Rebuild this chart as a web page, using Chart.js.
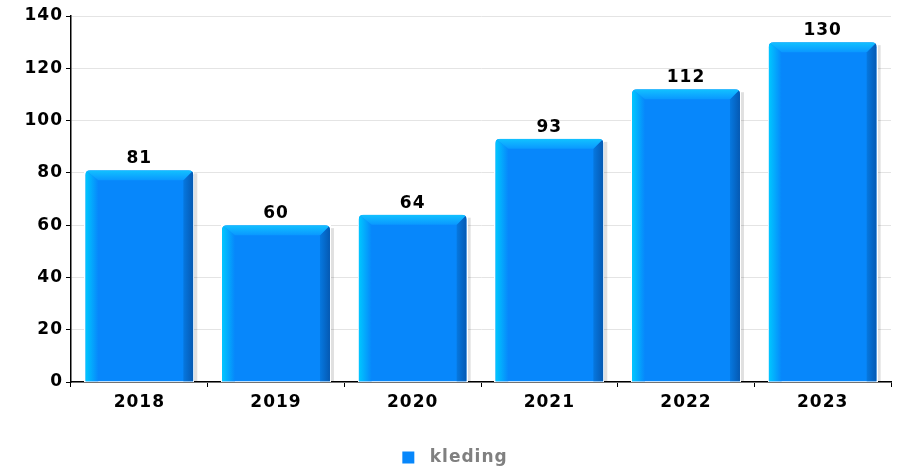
<!DOCTYPE html>
<html>
<head>
<meta charset="utf-8">
<script src="https://cdn.jsdelivr.net/npm/chart.js"></script>
<style>
  html, body { margin: 0; padding: 0; background: #fff; overflow: hidden; }
  #wrap { width: 901px; height: 467px; }
</style>
</head>
<body>
<div id="wrap"><canvas id="c" width="901" height="467"></canvas></div>
<script>
const years = ['2018', '2019', '2020', '2021', '2022', '2023'];
const kleding = [81, 60, 64, 93, 112, 130];

const FONT = "'DejaVu Sans', sans-serif";
const MAIN = '#0787fb';

// the source renders text a bit wider, so space the letters out
const spacing = {
  id: 'spacing',
  beforeUpdate(chart) { chart.ctx.letterSpacing = '1px'; },
  beforeDraw(chart) { chart.ctx.letterSpacing = '1px'; }
};

// draws the bevelled "3D" look over each bar, plus value labels
const bevelBars = {
  id: 'bevelBars',
  beforeDatasetsDraw(chart) {
    const ctx = chart.ctx;
    chart.getDatasetMeta(0).data.forEach(bar => {
      const r = bar.x + bar.width / 2;
      ctx.save();
      ctx.fillStyle = 'rgba(0,0,0,0.12)';
      ctx.fillRect(r, bar.y + 3, 4, bar.base - bar.y - 3);
      ctx.restore();
    });
  },
  afterDatasetsDraw(chart) {
    const ctx = chart.ctx;
    const meta = chart.getDatasetMeta(0);
    meta.data.forEach((bar, i) => {
      const l = bar.x - bar.width / 2, r = bar.x + bar.width / 2;
      const t = bar.y, b = bar.base;
      const rad = 5, sl = 13, sr = 10, bev = 10;
      ctx.save();
      ctx.beginPath();
      ctx.moveTo(l, b);
      ctx.lineTo(l, t + rad);
      ctx.quadraticCurveTo(l, t, l + rad, t);
      ctx.lineTo(r - rad, t);
      ctx.quadraticCurveTo(r, t, r, t + rad);
      ctx.lineTo(r, b);
      ctx.closePath();
      ctx.clearRect(l - 1, t - 1, r - l + 2, b - t + 1);
      ctx.clip();
      ctx.fillStyle = MAIN;
      ctx.fillRect(l, t, r - l, b - t);
      // left strip
      let g = ctx.createLinearGradient(l, 0, l + sl, 0);
      g.addColorStop(0, '#00c8ff');
      g.addColorStop(1, MAIN);
      ctx.fillStyle = g;
      ctx.beginPath();
      ctx.moveTo(l, b); ctx.lineTo(l, t); ctx.lineTo(l + sl, t + bev); ctx.lineTo(l + sl, b);
      ctx.closePath(); ctx.fill();
      // right strip
      g = ctx.createLinearGradient(r - sr, 0, r, 0);
      g.addColorStop(0, '#0678e0');
      g.addColorStop(1, '#0559b2');
      ctx.fillStyle = g;
      ctx.beginPath();
      ctx.moveTo(r, b); ctx.lineTo(r, t); ctx.lineTo(r - sr, t + bev); ctx.lineTo(r - sr, b);
      ctx.closePath(); ctx.fill();
      // top bevel
      g = ctx.createLinearGradient(0, t, 0, t + bev);
      g.addColorStop(0, '#12c2ff');
      g.addColorStop(1, '#0a98ff');
      ctx.fillStyle = g;
      ctx.beginPath();
      ctx.moveTo(l, t); ctx.lineTo(r, t); ctx.lineTo(r - sr, t + bev); ctx.lineTo(l + sl, t + bev);
      ctx.closePath(); ctx.fill();
      ctx.restore();

      // value label
      ctx.save();
      ctx.letterSpacing = '1px';
      ctx.font = 'bold 17px ' + FONT;
      ctx.fillStyle = '#000';
      ctx.textAlign = 'center';
      ctx.textBaseline = 'bottom';
      ctx.fillText(String(kleding[i]), bar.x, t - 3);
      ctx.restore();
    });
  }
};

new Chart(document.getElementById('c'), {
  type: 'bar',
  data: {
    labels: years,
    datasets: [{
      label: 'kleding',
      data: kleding,
      backgroundColor: MAIN,
      borderWidth: 0,
      categoryPercentage: 1,
      barPercentage: 0.79
    }]
  },
  options: {
    responsive: false,
    animation: false,
    layout: { padding: { top: 16, right: 10, left: 19, bottom: -9 } },
    plugins: {
      tooltip: { enabled: false },
      legend: {
        position: 'bottom',
        labels: {
          boxWidth: 12, boxHeight: 12, padding: 2,
          color: '#808080',
          font: { family: FONT, size: 17, weight: 'bold' },
          generateLabels(chart) {
            const items = Chart.defaults.plugins.legend.labels.generateLabels(chart);
            items.forEach(it => { it.text = ' ' + it.text; });
            return items;
          }
        }
      }
    },
    scales: {
      x: {
        grid: { drawOnChartArea: false, drawTicks: true, tickLength: 5, tickColor: '#000' },
        border: { color: '#000', width: 1.5 },
        ticks: { color: '#000', padding: 5, font: { family: FONT, size: 17, weight: 'bold' } },
        afterFit(s) { s.height = 65; }
      },
      y: {
        min: 0, max: 140,
        ticks: { stepSize: 20, color: '#000', padding: 3, font: { family: FONT, size: 17, weight: 'bold' } },
        grid: { color: '#e4e4e4', tickColor: '#000', tickLength: 5 },
        border: { color: '#000', width: 1.5 },
        afterFit(s) { s.width = 52; }
      }
    }
  },
  plugins: [spacing, bevelBars]
});
</script>
</body>
</html>
